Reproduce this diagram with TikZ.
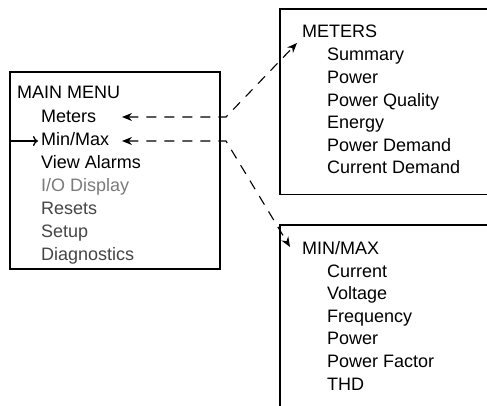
\documentclass[tikz,border=0pt]{standalone}
\usepackage{fontspec}
\setmainfont{Liberation Sans}
\usetikzlibrary{arrows.meta}
\definecolor{lightgr}{HTML}{7A7A7A}
\definecolor{darkgr}{HTML}{454545}
\begin{document}
\begin{tikzpicture}[x=1pt,y=-1pt,
  txt/.style={anchor=base west,inner sep=0pt,font=\fontsize{18}{21}\selectfont},
  frame/.style={line width=1.3pt},
  dasharrow/.style={line width=1.1pt,dash pattern=on 10pt off 8pt,{Stealth[length=10pt,width=8pt]}-{Stealth[length=10pt,width=8pt]}}]
\useasboundingbox (0,0) rectangle (487,406);
% main menu box
\draw[frame] (10,72) rectangle (220,269);
\node[txt] (mm) at (17,99) {MAIN MENU};
\node[txt] (meters) at (41,123) {Meters};
\node[txt] (minmax) at (41,145.8) {Min/Max};
\node[txt] (alarms) at (41,168.7) {View Alarms};
\node[txt,text=lightgr] (io) at (41,191.5) {I/O Display};
\node[txt,text=darkgr] (resets) at (41,214.3) {Resets};
\node[txt,text=darkgr] (setup) at (41,237.2) {Setup};
\node[txt,text=darkgr] (diag) at (41,260) {Diagnostics};
% meters box
\draw[frame] (488,9) -- (280,9) -- (280,194.5) -- (488,194.5);
\node[txt] (mt) at (302,38) {METERS};
\node[txt] (m1) at (327,61) {Summary};
\node[txt] (m2) at (327,83.6) {Power};
\node[txt] (m3) at (327,106.2) {Power Quality};
\node[txt] (m4) at (327,128.8) {Energy};
\node[txt] (m5) at (327,151.4) {Power Demand};
\node[txt] (m6) at (327,174) {Current Demand};
% min/max box
\draw[frame] (488,225) -- (280,225) -- (280,407);
\node[txt] (xt) at (302,254) {MIN/MAX};
\node[txt] (x1) at (327,277) {Current};
\node[txt] (x2) at (327,299.6) {Voltage};
\node[txt] (x3) at (327,322.2) {Frequency};
\node[txt] (x4) at (327,344.8) {Power};
\node[txt] (x5) at (327,367.4) {Power Factor};
\node[txt] (x6) at (327,390) {THD};
% connectors
\coordinate (tipA) at (122,117);
\coordinate (cornA) at (226,117);
\coordinate (tipB) at (297,43);
\coordinate (tipC) at (122,141);
\coordinate (cornC) at (226,141);
\coordinate (tipD) at (290,247);
\draw[dasharrow] (tipA) -- (cornA) -- (tipB);
\draw[dasharrow] (tipC) -- (cornC) -- (tipD);
\coordinate (curS) at (11,141);
\coordinate (curE) at (38,141);
\draw[line width=1.3pt,-{To[length=5pt,width=10pt]}] (curS) -- (curE);
\end{tikzpicture}
\end{document}
